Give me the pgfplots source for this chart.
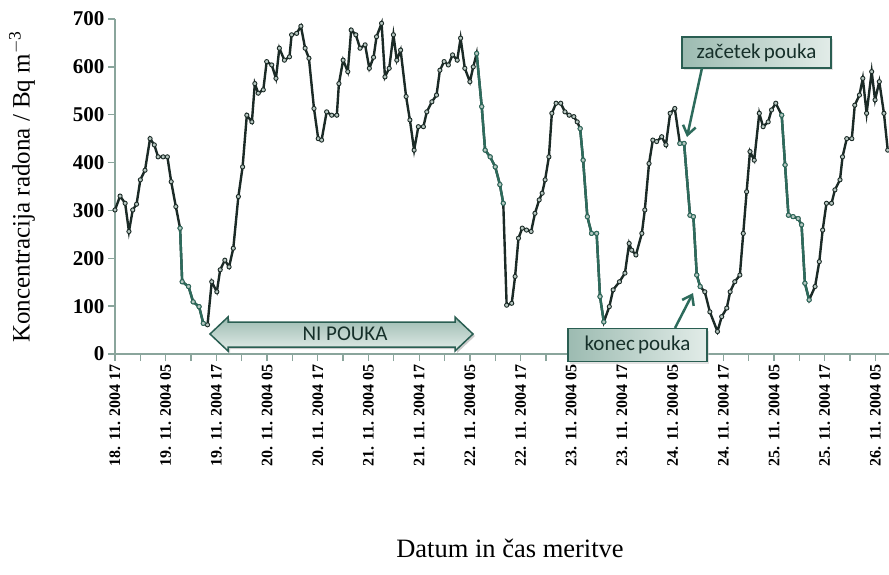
\documentclass[border=0pt]{standalone}
\usepackage{pgfplots}
\pgfplotsset{compat=1.18}
\usepackage{pgfplotstable}
\usepackage{fontspec}
\setmainfont{Liberation Serif}
\newfontfamily\calibri{Carlito}
\usetikzlibrary{arrows.meta,shadows}
\definecolor{linedark}{HTML}{1B2A26}
\definecolor{linegreen}{HTML}{2D6B5C}
\definecolor{axisgray}{HTML}{8AA59C}
\definecolor{boxborder}{HTML}{2A5E52}
\definecolor{boxlight}{HTML}{E2ECE8}
\definecolor{boxdark}{HTML}{9CBBB1}
\definecolor{mkfill}{HTML}{B8C8C2}
\definecolor{boxtext}{HTML}{16302A}

\pgfplotstableread{
h v
0 301
1.2 330
2.4 315
3.3 256
4.2 301
5.1 313
6 364
7.1 384
8.3 450
9.3 437
10.2 412
11.4 412
12.4 412
13.3 360
14.4 308
15.4 263
15.9 151
17.4 141
18.5 109
19.9 99
20.9 64
21.9 61
22.9 151
24.1 130
24.9 176
26 196
27 182
28 221
29.2 329
30.2 391
31.2 499
32.4 485
33.1 565
33.9 545
35.1 552
35.9 611
37.1 604
38.1 576
38.9 639
40.1 614
41.3 621
41.8 667
43 670
44 685
45 639
45.9 618
47.1 513
48.1 450
48.9 447
50.1 506
51.3 499
52.5 499
53 565
54 614
55.1 590
55.9 677
57 667
58 639
59.2 646
60.2 597
61.2 620
61.9 663
63.1 691
63.9 579
64.9 597
65.9 667
66.7 614
67.6 635
68.9 538
69.8 489
70.8 426
71.8 475
73 475
73.8 506
75 527
76.1 541
76.9 593
77.9 611
78.9 604
79.9 625
81 614
81.8 660
82.8 597
84 569
84.8 600
85.6 628
86.8 517
87.6 426
88.8 412
90 391
91.1 354
91.9 315
92.7 102
93.9 106
94.7 162
95.5 242
96.4 263
97.4 259
98.5 256
99.4 294
100.4 322
101.1 336
101.8 364
102.7 412
103.4 503
104.4 524
105.5 524
106.5 506
107.5 499
108.6 496
109.4 485
110.1 471
110.8 405
111.8 287
112.8 252
114 252
114.8 120
115.7 67
117 99
117.9 134
119.4 151
120.7 169
121.7 231
122.3 217
123.3 207
124.7 252
125.4 301
126.4 398
127.3 447
128.2 444
129.4 454
130.4 437
131.4 503
132.5 513
133.7 440
134.7 440
136.1 290
136.9 287
137.7 165
138.5 141
139.6 130
140.8 88
142.6 47
143.6 78
144.8 96
145.6 130
146.7 151
147.9 165
148.7 252
149.5 339
150.3 423
151.3 405
152.5 503
153.4 475
154.6 485
155.4 510
156.4 524
157.8 499
158.6 395
159.4 290
160.5 287
161.7 283
162.5 270
163.3 148
164.3 113
165.7 141
166.7 193
167.5 259
168.4 315
169.6 315
170.4 343
171.6 364
172.2 412
173.2 450
174.4 450
175.1 520
176.2 541
177 576
177.9 503
179.1 590
179.9 531
180.9 569
182 503
182.9 426
}\radon

\begin{document}
\begin{tikzpicture}
\path[use as bounding box] (-115pt,-220pt) rectangle (774pt,354pt);
\begin{axis}[
  scale only axis, width=774pt, height=335pt,
  xmin=0, xmax=183.2, ymin=0, ymax=700,
  clip=false,
  axis lines*=left,
  axis line style={axisgray, line width=1.3pt},
  xtick={0,12,...,180},
  minor xtick={6,18,...,174},
  xticklabels={18. 11. 2004 17,19. 11. 2004 05,19. 11. 2004 17,20. 11. 2004 05,20. 11. 2004 17,21. 11. 2004 05,21. 11. 2004 17,22. 11. 2004 05,22. 11. 2004 17,23. 11. 2004 05,23. 11. 2004 17,24. 11. 2004 05,24. 11. 2004 17,25. 11. 2004 05,25. 11. 2004 17,26. 11. 2004 05},
  x tick label style={rotate=90, anchor=east, font=\bfseries\fontsize{16}{16}\selectfont},
  ytick={0,100,...,700},
  yticklabels={0,100,200,300,400,500,600,700},
  y tick label style={font=\bfseries\fontsize{21}{21}\selectfont},
  tick align=outside,
  major tick length=7pt, minor tick length=7pt,
  every tick/.style={axisgray, line width=1.3pt},
  every minor tick/.style={axisgray, line width=1.3pt},
]
\addplot[linedark, line width=2.4pt, mark=*, mark size=2.1pt,
  mark options={draw=linedark, fill=mkfill, line width=0.9pt}] table[x=h,y=v] {\radon};
\addplot[linegreen, line width=2.4pt, mark=*, mark size=2.1pt,
  mark options={draw=linegreen, fill=mkfill, line width=0.9pt}] coordinates {
  (15.4,263) (15.9,151) (17.4,141) (18.5,109) (19.9,99) (20.9,64)};
\addplot[linegreen, line width=2.4pt, mark=*, mark size=2.1pt,
  mark options={draw=linegreen, fill=mkfill, line width=0.9pt}] coordinates {
  (85.6,628) (86.8,517) (87.6,426) (88.8,412) (90,391) (91.1,354) (91.9,315)};
\addplot[linegreen, line width=2.4pt, mark=*, mark size=2.1pt,
  mark options={draw=linegreen, fill=mkfill, line width=0.9pt}] coordinates {
  (110.1,471) (110.8,405) (111.8,287) (112.8,252) (114,252) (114.8,120) (115.7,67)};
\addplot[linegreen, line width=2.4pt, mark=*, mark size=2.1pt,
  mark options={draw=linegreen, fill=mkfill, line width=0.9pt}] coordinates {
  (133.7,440) (134.7,440) (136.1,290) (136.9,287) (137.7,165) (138.5,141)};
\addplot[linegreen, line width=2.4pt, mark=*, mark size=2.1pt,
  mark options={draw=linegreen, fill=mkfill, line width=0.9pt}] coordinates {
  (157.8,499) (158.6,395) (159.4,290) (160.5,287) (161.7,283) (162.5,270) (163.3,148) (164.3,113)};
\end{axis}
% axis titles
\node[rotate=90, font=\fontsize{25}{25}\selectfont] at (-93pt,167pt) {Koncentracija radona / Bq m\textsuperscript{$-$3}};
\node[font=\fontsize{26.5}{26.5}\selectfont] at (395pt,-194pt) {Datum in čas meritve};
% NI POUKA double arrow
\fill[gray!40] (97pt,18pt) -- (115pt,35pt) -- (115pt,30pt) -- (342pt,30pt) -- (342pt,35pt) -- (360pt,18pt) -- (342pt,1pt) -- (342pt,5pt) -- (115pt,5pt) -- (115pt,1pt) -- cycle;
\shade[top color=boxdark, bottom color=boxlight, draw=boxborder, line width=1.5pt]
  (95pt,20pt) -- (113pt,37pt) -- (113pt,32pt) -- (340pt,32pt) -- (340pt,37pt) -- (358pt,20pt) -- (340pt,3pt) -- (340pt,7pt) -- (113pt,7pt) -- (113pt,3pt) -- cycle;
\node[font=\calibri\fontsize{21}{21}\selectfont, text=boxtext] at (230pt,20pt) {NI POUKA};
% konec pouka
\node[draw=boxborder, line width=1.2pt, left color=boxdark, right color=boxlight,
  drop shadow={shadow xshift=2pt, shadow yshift=-2pt, fill=gray!45},
  minimum width=139pt, minimum height=33pt, inner sep=0pt,
  font=\calibri\fontsize{21}{21}\selectfont, text=boxtext] at (522.5pt,9pt) {konec\hspace{0.15em}pouka};
\draw[linegreen, line width=2.5pt, -{Straight Barb[length=9pt,width=13pt]}] (560pt,26pt) -- (578pt,61pt);
% zacetek pouka
\node[draw=boxborder, line width=1.2pt, left color=boxdark, right color=boxlight,
  drop shadow={shadow xshift=2pt, shadow yshift=-2pt, fill=gray!45},
  minimum width=149pt, minimum height=31pt, inner sep=0pt,
  font=\calibri\fontsize{21}{21}\selectfont, text=boxtext] at (641.5pt,301.5pt) {začetek\hspace{0.15em}pouka};
\draw[linegreen, line width=2.5pt, -{Straight Barb[length=9pt,width=13pt]}] (587pt,286pt) -- (572pt,217pt);
\end{tikzpicture}
\end{document}
